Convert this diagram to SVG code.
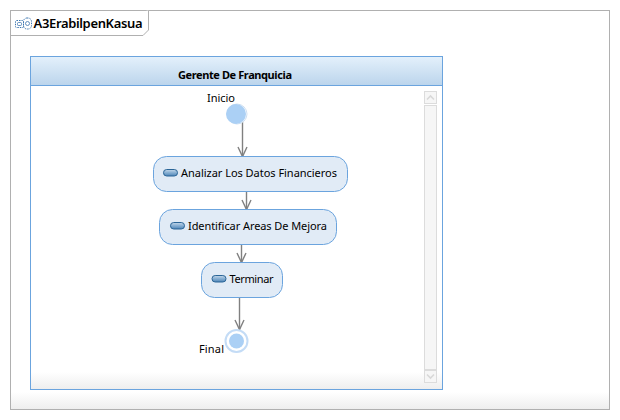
<svg xmlns="http://www.w3.org/2000/svg" width="620" height="420" viewBox="0 0 620 420">
<defs>
<linearGradient id="fade" x1="0" y1="0" x2="0" y2="1"><stop offset="0" stop-color="#fff"/><stop offset="1" stop-color="#eeeeee"/></linearGradient>
<linearGradient id="head" x1="0" y1="0" x2="0" y2="1"><stop offset="0" stop-color="#e3f0fb"/><stop offset="1" stop-color="#bcd5ec"/></linearGradient>
<linearGradient id="pill" x1="0" y1="0" x2="0" y2="1"><stop offset="0" stop-color="#c4d8ea"/><stop offset="0.5" stop-color="#86aed2"/><stop offset="1" stop-color="#4f86b8"/></linearGradient>
<marker id="open" markerUnits="userSpaceOnUse" markerWidth="14" markerHeight="14" refX="11" refY="7" orient="auto"><path d="M1.5 2.5 L11 7 L1.5 11.5" fill="none" stroke="#808080" stroke-width="1.4"/></marker>
</defs>
<style>
text{font-family:"Noto Sans","DejaVu Sans",sans-serif;fill:#000}
.lbl{font-size:11px}
.act{fill:#e1ebf6;stroke:#6ba4de;stroke-width:1}
.ic{fill:url(#pill);stroke:#2a6597;stroke-width:1}
.edge{fill:none;stroke:#808080;stroke-width:1.4;marker-end:url(#open)}
.sb{fill:#f6f6f6;stroke:#dcdcdc;stroke-width:1}
.chev{fill:none;stroke:#d8d8d8;stroke-width:1.6}
</style>
<rect width="620" height="420" fill="#fff"/>
<g id="frame">
<rect x="10.5" y="10.5" width="599" height="399" fill="#fff" stroke="#b0b0b0"/>
<rect x="11" y="392" width="598" height="17" fill="url(#fade)"/>
<path d="M10.5 35.5 H143 L148.5 30 V10.5" fill="#fff" stroke="#b0b0b0"/>
<g fill="none" stroke="#3d76b0" stroke-width="1"><rect x="15.5" y="20.5" width="8" height="7" stroke-dasharray="1.5 1" rx="1"/><rect x="23.5" y="18" width="8" height="11" rx="3.5" stroke-dasharray="1.5 1"/><rect x="17.5" y="22.5" width="4" height="3" rx="1" stroke-width=".8"/><circle cx="27.5" cy="23.5" r="2" stroke-width=".8"/></g>
<text x="33.5" y="27.5" font-size="13" font-weight="600" textLength="109" stroke="none">A3ErabilpenKasua</text>
</g>
<g id="lane">
<rect x="30.5" y="56.5" width="412" height="333" fill="#fff" stroke="#6ba4de"/>
<rect x="31" y="372" width="411" height="17" fill="url(#fade)"/>
<rect x="31" y="57" width="411" height="28" fill="url(#head)"/>
<path d="M31 85.5 H442" stroke="#6ba4de"/>
<text x="235" y="79" font-size="11" font-weight="bold" text-anchor="middle" textLength="114">Gerente De Franquicia</text>
</g>
<g id="scrollbar">
<rect class="sb" x="424.5" y="91.5" width="12" height="12"/><path class="chev" d="M427 99.5 L430.5 96 L434 99.5"/>
<rect class="sb" x="424.5" y="105.5" width="12" height="264"/>
<rect class="sb" x="424.5" y="370.5" width="12" height="12"/><path class="chev" d="M427 374.5 L430.5 378 L434 374.5"/>
</g>
<g id="connectors">
<path class="edge" d="M242.5 122 V156.5"/>
<path class="edge" d="M246.5 192 V209.5"/>
<path class="edge" d="M241.5 245 V262.5"/>
<path class="edge" d="M239.5 298 V329.5"/>
</g>
<g id="inicio">
<circle cx="237" cy="114" r="10" fill="#fff" stroke="#cfe0f2"/>
<circle cx="236" cy="114" r="10" fill="#abd0f5"/>
<text class="lbl" x="207" y="102" textLength="28">Inicio</text>
</g>
<g id="analizar">
<rect class="act" x="153.5" y="156.5" width="194" height="35" rx="13"/>
<rect class="ic" x="163.5" y="169.5" width="14" height="6.5" rx="3.2"/>
<text class="lbl" x="181" y="177" textLength="156">Analizar Los Datos Financieros</text>
</g>
<g id="identificar">
<rect class="act" x="159.5" y="209.5" width="177" height="35" rx="13"/>
<rect class="ic" x="170.5" y="222.5" width="14" height="6.5" rx="3.2"/>
<text class="lbl" x="188" y="230" textLength="139">Identificar Areas De Mejora</text>
</g>
<g id="terminar">
<rect class="act" x="201.5" y="262.5" width="81" height="35" rx="13"/>
<rect class="ic" x="212" y="275.5" width="14" height="6.5" rx="3.2"/>
<text class="lbl" x="229.5" y="283" textLength="44">Terminar</text>
</g>
<g id="final">
<circle cx="236.5" cy="341" r="11" fill="#fff" stroke="#c4dcf6" stroke-width="2"/>
<circle cx="236.5" cy="341" r="7.5" fill="#abd0f5"/>
<text class="lbl" x="199" y="353" textLength="25">Final</text>
</g>
</svg>
